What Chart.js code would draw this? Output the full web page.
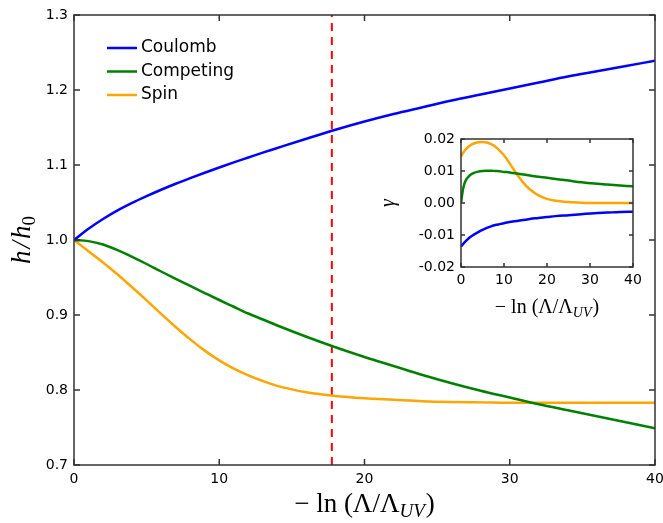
<!DOCTYPE html>
<html>
<head>
<meta charset="utf-8">
<script src="https://cdn.jsdelivr.net/npm/chart.js@4.4.1/dist/chart.umd.min.js"></script>
<style>
  html, body { margin: 0; padding: 0; background: #fff; }
  #wrap { position: relative; width: 663px; height: 523px; }
  #main { position: absolute; left: 0; top: 0; }
  #inset { position: absolute; left: 370px; top: 120px; }
</style>
</head>
<body>
<div id="wrap">
  <canvas id="main" width="663" height="523"></canvas>
  <canvas id="inset" width="285" height="205"></canvas>
</div>
<script>
/* ── DATA: main panel (h/h0 vs -ln(Λ/Λ_UV)) ─────────────────────── */
const mainX = [0, 1, 2, 3, 4, 5, 6, 7, 8, 9, 10, 11, 12, 13, 14,
               16, 18, 20, 22, 24, 26, 28, 30, 32, 34, 36, 38, 40];
const coulomb = [1.000, 1.015, 1.028, 1.0395, 1.0495, 1.0585, 1.067, 1.075, 1.0825, 1.0897, 1.0967, 1.1035, 1.110, 1.1165, 1.1227,
                 1.135, 1.147, 1.158, 1.168, 1.177, 1.186, 1.194, 1.202, 1.210, 1.218, 1.225, 1.232, 1.239];
const competing = [1.000, 0.9985, 0.994, 0.9865, 0.9775, 0.968, 0.958, 0.9483, 0.9387, 0.9293, 0.920, 0.911, 0.902, 0.894, 0.886,
                   0.871, 0.857, 0.844, 0.832, 0.820, 0.809, 0.799, 0.790, 0.781, 0.773, 0.765, 0.757, 0.749];
const spin = [1.000, 0.985, 0.970, 0.954, 0.937, 0.9195, 0.9015, 0.884, 0.8675, 0.8525, 0.8395, 0.8285, 0.8195, 0.812, 0.8055,
              0.797, 0.792, 0.789, 0.787, 0.785, 0.784, 0.7835, 0.783, 0.783, 0.783, 0.783, 0.783, 0.783];
const cutX = 17.75;                       // red dashed marker
const mainXTicks = [0, 10, 20, 30, 40];
const mainYTicks = [0.7, 0.8, 0.9, 1.0, 1.1, 1.2, 1.3];

/* ── DATA: inset (γ) ─────────────────────────────────────────────── */
const insetX = [0, 0.5, 1, 2, 3, 4, 5, 6, 7, 8, 9, 10, 11, 12, 13, 14, 15, 16,
                18, 20, 22, 25, 28, 31, 34, 37, 40];
const gammaCoulomb = [-0.0136, -0.0128, -0.0121, -0.0108, -0.0099, -0.0091, -0.0084, -0.0078, -0.0073, -0.0069,
                      -0.0066, -0.0063, -0.0060, -0.0058, -0.0056, -0.0054, -0.0052, -0.0050,
                      -0.0047, -0.0044, -0.0041, -0.0038, -0.0035, -0.0032, -0.0030, -0.0028, -0.0027];
const gammaCompeting = [0.0000, 0.0045, 0.0068, 0.0086, 0.0094, 0.0098, 0.0100, 0.0101, 0.0101, 0.0100,
                        0.0099, 0.0097, 0.0096, 0.0094, 0.0092, 0.0090, 0.0088, 0.0086,
                        0.0082, 0.0079, 0.0075, 0.0070, 0.0065, 0.0061, 0.0058, 0.0055, 0.0052];
const gammaSpin = [0.0145, 0.0157, 0.0166, 0.0179, 0.0186, 0.0190, 0.0191, 0.0189, 0.0184, 0.0176,
                   0.0164, 0.0149, 0.0130, 0.0110, 0.0090, 0.0072, 0.0056, 0.0043,
                   0.0024, 0.0013, 0.0007, 0.0003, 0.0001, 0.0000, 0.0000, 0.0000, 0.0000];
const insetXTicks = [0, 10, 20, 30, 40];
const insetYTicks = [-0.02, -0.01, 0.00, 0.01, 0.02];

const seriesNames = ['Coulomb', 'Competing', 'Spin'];
const seriesColors = ['#0000ff', '#008000', '#ffa500'];

/* ── DEFAULTS ────────────────────────────────────────────────────── */
Chart.defaults.font.family = "'DejaVu Sans', sans-serif";
Chart.defaults.font.size = 14;
Chart.defaults.color = '#000';

const SERIF = "'Liberation Serif', 'Times New Roman', serif";

const pts = (xs, ys) => xs.map((x, i) => ({ x, y: ys[i] }));

// draws a run of text pieces (with optional subscripts) centred on x
function drawRich(ctx, parts, x, y) {
  let total = 0;
  parts.forEach(p => { ctx.font = p.font; total += ctx.measureText(p.t).width + (p.gap || 0); });
  let cx = x - total / 2;
  ctx.textAlign = 'left';
  ctx.textBaseline = 'alphabetic';
  parts.forEach(p => {
    ctx.font = p.font;
    ctx.fillText(p.t, cx, y + (p.dy || 0));
    cx += ctx.measureText(p.t).width + (p.gap || 0);
  });
}

/* ── PLUGIN: mpl-style box frame + inward ticks on all sides ────── */
const framePlugin = {
  id: 'frame',
  beforeDatasetsDraw(chart, args, opts) {
    const { ctx, chartArea: a } = chart;
    if (opts.fill) {
      ctx.save();
      ctx.fillStyle = '#fff';
      ctx.fillRect(a.left, a.top, a.right - a.left, a.bottom - a.top);
      ctx.restore();
    }
  },
  afterDraw(chart, args, opts) {
    const { ctx, chartArea: a, scales } = chart;
    const len = opts.tick || 6;
    ctx.save();
    ctx.strokeStyle = '#333';
    ctx.lineWidth = 1.5;
    ctx.beginPath();
    scales.x.ticks.forEach(t => {
      const px = scales.x.getPixelForValue(t.value);
      ctx.moveTo(px, a.bottom); ctx.lineTo(px, a.bottom - len);
      ctx.moveTo(px, a.top);    ctx.lineTo(px, a.top + len);
    });
    scales.y.ticks.forEach(t => {
      const py = scales.y.getPixelForValue(t.value);
      ctx.moveTo(a.left, py);  ctx.lineTo(a.left + len, py);
      ctx.moveTo(a.right, py); ctx.lineTo(a.right - len, py);
    });
    ctx.stroke();
    ctx.strokeRect(a.left, a.top, a.right - a.left, a.bottom - a.top);
    ctx.restore();
  }
};

/* ── PLUGIN: axis titles with math-like sub-scripts ─────────────── */
const titlePlugin = {
  id: 'mathTitles',
  afterDraw(chart, args, opts) {
    const { ctx, chartArea: a } = chart;
    ctx.save();
    ctx.fillStyle = '#000';
    const s = opts.size;
    const sub = Math.round(s * 0.7);
    drawRich(ctx, [
      { t: '\u2212 ln (\u039B/\u039B', font: `${s}px ${SERIF}` },
      { t: 'UV', font: `italic ${sub}px ${SERIF}`, dy: Math.round(s * 0.18), gap: 1 },
      { t: ')', font: `${s}px ${SERIF}` }
    ], (a.left + a.right) / 2, opts.xTitleY);

    ctx.translate(opts.yTitleX, (a.top + a.bottom) / 2);
    ctx.rotate(-Math.PI / 2);
    drawRich(ctx, opts.yParts(s), 0, 0);
    ctx.restore();
  }
};

/* ── PLUGIN: legend in upper left of the plot ───────────────────── */
const legendPlugin = {
  id: 'innerLegend',
  afterDraw(chart, args, opts) {
    if (!opts.show) return;
    const { ctx } = chart;
    ctx.save();
    ctx.font = "17px 'DejaVu Sans', sans-serif";
    ctx.textBaseline = 'middle';
    ctx.textAlign = 'left';
    chart.data.datasets.slice(0, 3).forEach((ds, i) => {
      const y = 48 + i * 23.5;
      ctx.strokeStyle = ds.borderColor;
      ctx.lineWidth = 2.5;
      ctx.beginPath();
      ctx.moveTo(107, y); ctx.lineTo(137, y);
      ctx.stroke();
      ctx.fillStyle = '#000';
      ctx.fillText(ds.label, 141, y);
    });
    ctx.restore();
  }
};

function lineSet(label, color, data, width) {
  return {
    label, data,
    borderColor: color, backgroundColor: color,
    borderWidth: width, pointRadius: 0,
    cubicInterpolationMode: 'monotone', fill: false
  };
}

/* ── MAIN CHART ──────────────────────────────────────────────────── */
new Chart(document.getElementById('main'), {
  type: 'line',
  data: {
    datasets: [
      lineSet(seriesNames[0], seriesColors[0], pts(mainX, coulomb), 2.5),
      lineSet(seriesNames[1], seriesColors[1], pts(mainX, competing), 2.5),
      lineSet(seriesNames[2], seriesColors[2], pts(mainX, spin), 2.5),
      {
        label: 'cut',
        data: [{ x: cutX, y: mainYTicks[0] }, { x: cutX, y: mainYTicks[mainYTicks.length - 1] }],
        borderColor: '#ff0000', borderWidth: 2, borderDash: [8, 6],
        pointRadius: 0, fill: false
      }
    ]
  },
  options: {
    responsive: false,
    animation: false,
    layout: { padding: { left: 0, right: 8, top: 15, bottom: 0 } },
    plugins: {
      legend: { display: false },
      tooltip: { enabled: false },
      frame: { tick: 6 },
      innerLegend: { show: true },
      mathTitles: {
        size: 27, xTitleY: 512, yTitleX: 30,
        yParts: s => [
          { t: 'h', font: `italic ${s}px ${SERIF}`, gap: 2 },
          { t: '/', font: `italic ${s}px ${SERIF}`, gap: 2 },
          { t: 'h', font: `italic ${s}px ${SERIF}` },
          { t: '0', font: `${Math.round(s * 0.7)}px ${SERIF}`, dy: Math.round(s * 0.2) }
        ]
      }
    },
    scales: {
      x: {
        type: 'linear', min: mainXTicks[0], max: mainXTicks[mainXTicks.length - 1],
        afterBuildTicks: s => { s.ticks = mainXTicks.map(v => ({ value: v })); },
        afterFit: s => { s.height = 58; s.paddingLeft = 0; s.paddingRight = 0; },
        grid: { display: false, drawTicks: false },
        border: { display: false },
        ticks: { padding: 6, maxRotation: 0, callback: v => String(v) }
      },
      y: {
        type: 'linear', min: mainYTicks[0], max: mainYTicks[mainYTicks.length - 1],
        afterBuildTicks: s => { s.ticks = mainYTicks.map(v => ({ value: v })); },
        afterFit: s => { s.width = 74; },
        grid: { display: false, drawTicks: false },
        border: { display: false },
        ticks: { padding: 6, callback: v => v.toFixed(1) }
      }
    }
  },
  plugins: [framePlugin, titlePlugin, legendPlugin]
});

/* ── INSET CHART ─────────────────────────────────────────────────── */
new Chart(document.getElementById('inset'), {
  type: 'line',
  data: {
    datasets: [
      lineSet(seriesNames[0], seriesColors[0], pts(insetX, gammaCoulomb), 2.5),
      lineSet(seriesNames[1], seriesColors[1], pts(insetX, gammaCompeting), 2.5),
      lineSet(seriesNames[2], seriesColors[2], pts(insetX, gammaSpin), 2.5)
    ]
  },
  options: {
    responsive: false,
    animation: false,
    layout: { padding: { left: 0, right: 22, top: 19, bottom: 0 } },
    plugins: {
      legend: { display: false },
      tooltip: { enabled: false },
      frame: { tick: 4, fill: true },
      innerLegend: { show: false },
      mathTitles: {
        size: 20, xTitleY: 193, yTitleX: 24,
        yParts: s => [{ t: '\u03B3', font: `italic ${s}px ${SERIF}` }]
      }
    },
    scales: {
      x: {
        type: 'linear', min: insetXTicks[0], max: insetXTicks[insetXTicks.length - 1],
        afterBuildTicks: s => { s.ticks = insetXTicks.map(v => ({ value: v })); },
        afterFit: s => { s.height = 58; s.paddingLeft = 0; s.paddingRight = 0; },
        grid: { display: false, drawTicks: false },
        border: { display: false },
        ticks: { padding: 5, maxRotation: 0, callback: v => String(v) }
      },
      y: {
        type: 'linear', min: insetYTicks[0], max: insetYTicks[insetYTicks.length - 1],
        afterBuildTicks: s => { s.ticks = insetYTicks.map(v => ({ value: v })); },
        afterFit: s => { s.width = 91; },
        grid: { display: false, drawTicks: false },
        border: { display: false },
        ticks: { padding: 6, callback: v => v.toFixed(2) }
      }
    }
  },
  plugins: [framePlugin, titlePlugin, legendPlugin]
});
</script>
</body>
</html>
